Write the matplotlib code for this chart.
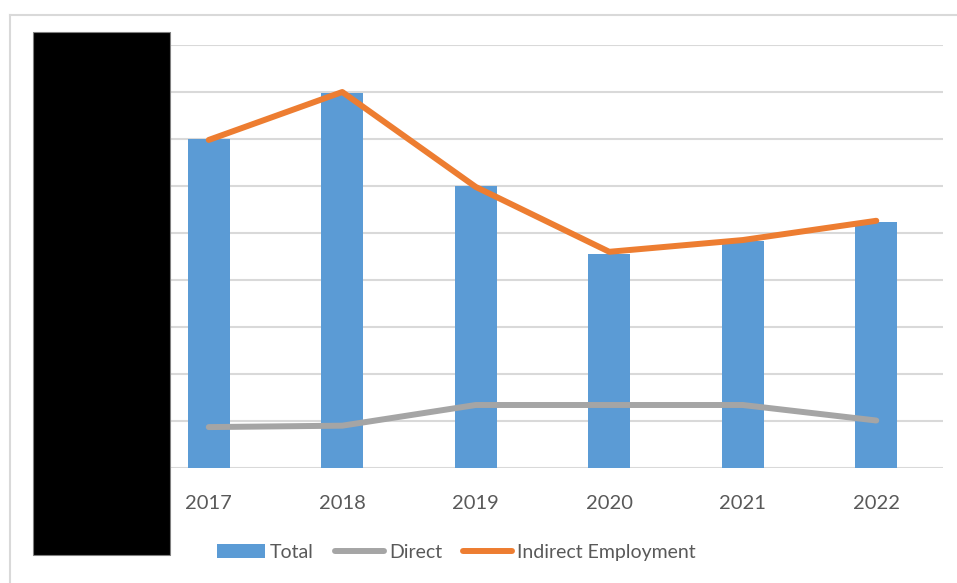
import numpy as np
import matplotlib
matplotlib.use("Agg")
import matplotlib.pyplot as plt
from matplotlib.patches import Rectangle
from matplotlib.lines import Line2D

years = ["2017", "2018", "2019", "2020", "2021", "2022"]
total = [7.0, 7.97, 6.0, 4.55, 4.82, 5.24]
direct = [0.87, 0.90, 1.34, 1.34, 1.34, 1.01]
indirect = [6.98, 8.0, 5.98, 4.6, 4.85, 5.26]

plt.rcParams["font.family"] = ["Lato", "DejaVu Sans"]


def plot_chart():
    fig = plt.figure(figsize=(9.57, 5.83), dpi=100)
    ax = fig.add_axes([0.1484, 0.1973, 0.837, 0.7255])

    x = np.arange(len(years))
    bars = ax.bar(x, total, width=0.315, color="#5b9bd5", label="Total", zorder=2)
    l_dir, = ax.plot(x, direct, color="#a5a5a5", lw=4.3, solid_capstyle="round",
                     solid_joinstyle="round", label="Direct", zorder=3)
    l_ind, = ax.plot(x, indirect, color="#ed7d31", lw=4.3, solid_capstyle="round",
                     solid_joinstyle="round", label="Indirect Employment", zorder=3)

    ax.set_xlim(-0.5, len(years) - 0.5)
    ax.set_ylim(0, 9)
    ax.set_yticks(range(0, 10))
    ax.yaxis.grid(True, color="#d9d9d9", lw=1.5, zorder=0)
    ax.set_axisbelow(True)
    ax.tick_params(axis="y", left=False, labelleft=False)
    ax.set_xticks(x)
    ax.set_xticklabels(years, fontsize=14.5, color="#595959")
    ax.tick_params(axis="x", bottom=False, pad=16)
    for s in ax.spines.values():
        s.set_visible(False)

    fig.legend([bars, l_dir, l_ind], ["Total", "Direct", "Indirect Employment"],
               loc="center", bbox_to_anchor=(0.4765, 0.053), ncol=3,
               frameon=False, fontsize=14, labelcolor="#595959",
               handlelength=2.5, handletextpad=0.25, columnspacing=1.1)

    # outer chart frame
    fig.add_artist(Line2D([10 / 957, 10 / 957], [0, 1 - 15 / 583],
                          color="#d9d9d9", lw=1.5))
    fig.add_artist(Line2D([10 / 957, 1], [1 - 15 / 583, 1 - 15 / 583],
                          color="#d9d9d9", lw=1.5))

    # redaction box over the y-axis labels
    fig.add_artist(Rectangle((33 / 957, 28 / 583), 137 / 957, 523 / 583,
                             facecolor="black", edgecolor="#808080", lw=0.8,
                             transform=fig.transFigure, zorder=10))

    fig.savefig("out.png", dpi=100)


if __name__ == "__main__":
    plot_chart()
